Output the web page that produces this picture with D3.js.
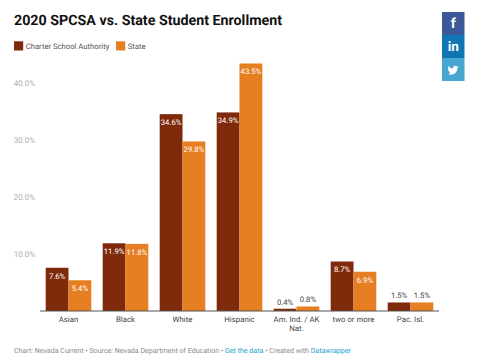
<!DOCTYPE html>
<html><head><meta charset="utf-8">
<script src="https://cdn.jsdelivr.net/npm/d3@7"></script>
<style>html,body{margin:0;padding:0;background:#fff}svg{display:block}text{font-family:Roboto,sans-serif;text-rendering:geometricPrecision}</style>
</head><body><svg id="c" width="480" height="363"></svg>
<script>
const categories=["Asian","Black","White","Hispanic","Am. Ind. / AK Nat.","two or more","Pac. Isl."];
const charter=[7.6,11.9,34.6,34.9,0.4,8.7,1.5];
const state=[5.4,11.8,29.8,43.5,0.8,6.9,1.5];
const seriesNames=["Charter School Authority","State"];
const seriesColors=["#7f2a0b","#e67e22"];
const yTicks=[10,20,30,40];
const title="2020 SPCSA vs. State Student Enrollment";
const socials=[["#3b5998","f"],["#0f76b3","in"],["#46a5d1",""]];

const svg=d3.select("#c");
const y=d3.scaleLinear().domain([0,43.5]).range([311,63.5]);
const x=d3.scaleBand().domain(categories).range([40,439]).paddingInner(0.2).paddingOuter(0.1);
const x1=d3.scaleBand().domain(seriesNames).range([0,x.bandwidth()]);

svg.append("text").attr("x",14).attr("y",25).attr("font-size",14.25).attr("font-weight",700).attr("fill","#111").text(title);

let lx=14;
const legendWidths=[102,0];
seriesNames.forEach((n,i)=>{
  svg.append("rect").attr("x",lx).attr("y",41.3).attr("width",9.2).attr("height",9.2).attr("fill",seriesColors[i]);
  svg.append("text").attr("x",lx+11.7).attr("y",48.8).attr("font-size",7.7).attr("fill","#555").text(n);
  lx+=legendWidths[i];
});

const yAxis=d3.axisLeft(y).tickValues(yTicks).tickSize(0).tickFormat(d=>d.toFixed(1)+"%");
const ga=svg.append("g").attr("transform","translate(35,0)").call(yAxis);
ga.select(".domain").remove();
ga.selectAll("text").attr("x",0).attr("text-anchor","end").attr("font-size",7.9).attr("fill","#aaa").style("font-family","Roboto,sans-serif");

const groups=svg.selectAll("g.grp").data(categories).join("g").attr("class","grp")
  .attr("transform",d=>`translate(${x(d)},0)`);
[charter,state].forEach((vals,s)=>{
  groups.append("rect").attr("x",x1(seriesNames[s])).attr("width",x1.bandwidth())
    .attr("y",(d,i)=>y(vals[i])).attr("height",(d,i)=>y(0)-y(vals[i])).attr("fill",seriesColors[s]);
  groups.append("text").attr("x",x1(seriesNames[s])+x1.bandwidth()/2)
    .attr("y",(d,i)=>vals[i]>3?y(vals[i])+10.8:y(vals[i])-4.2)
    .attr("text-anchor","middle").attr("font-size",7.7)
    .attr("fill",(d,i)=>vals[i]>3?"#fff":"#444").text((d,i)=>vals[i].toFixed(1)+"%");
});

svg.append("line").attr("x1",40).attr("x2",439).attr("y1",y(0)).attr("y2",y(0)).attr("stroke","#555").attr("stroke-width",1);

const xa=svg.append("g");
categories.forEach(c=>{
  const t=xa.append("text").attr("x",x(c)+x.bandwidth()/2).attr("y",322).attr("text-anchor","middle").attr("font-size",7.8).attr("fill","#444");
  if(c.length>14){
    t.append("tspan").attr("x",x(c)+x.bandwidth()/2).text("Am. Ind. / AK");
    t.append("tspan").attr("x",x(c)+x.bandwidth()/2).attr("dy",9.4).text("Nat.");
  } else t.text(c);
});

const f=svg.append("text").attr("x",14).attr("y",353).attr("font-size",7.09).attr("fill","#888");
f.append("tspan").text("Chart: Nevada Current • Source: Nevada Department of Education • ");
f.append("tspan").attr("fill","#18a1cd").text("Get the data");
f.append("tspan").text(" • Created with ");
f.append("tspan").attr("fill","#18a1cd").text("Datawrapper");

const sb=d3.scaleBand().domain(d3.range(socials.length)).range([12,81]);
socials.forEach((s,i)=>{
  svg.append("rect").attr("x",442).attr("y",sb(i)).attr("width",22.5).attr("height",sb.bandwidth()).attr("fill",s[0]);
  if(s[1]) svg.append("text").attr("x",453.2).attr("y",sb(i)+16).attr("text-anchor","middle")
    .attr("font-size",i==0?14:13.5).attr("font-weight",700).attr("fill","#fff").text(s[1]);
  else svg.append("path").attr("transform",`translate(447.5,${sb(i)+6.7}) scale(0.46)`)
    .attr("d","M24 4.6c-.9.4-1.8.7-2.8.8 1-.6 1.8-1.6 2.2-2.7-1 .6-2 1-3.1 1.2C19.3 2.8 18 2.2 16.6 2.2c-2.7 0-4.9 2.2-4.9 4.9 0 .4 0 .8.1 1.1C7.7 8 4.1 6 1.7 3 1.2 3.7 1 4.6 1 5.5c0 1.7.9 3.2 2.2 4.1-.8 0-1.6-.2-2.2-.6v.1c0 2.4 1.7 4.4 3.9 4.8-.4.1-.8.2-1.3.2-.3 0-.6 0-.9-.1.6 2 2.4 3.4 4.6 3.4-1.7 1.3-3.8 2.1-6.1 2.1-.4 0-.8 0-1.2-.1 2.2 1.4 4.8 2.2 7.5 2.2 9.1 0 14-7.5 14-14v-.6c1-.7 1.8-1.6 2.5-2.5z")
    .attr("fill","#fff");
});
</script></body></html>
